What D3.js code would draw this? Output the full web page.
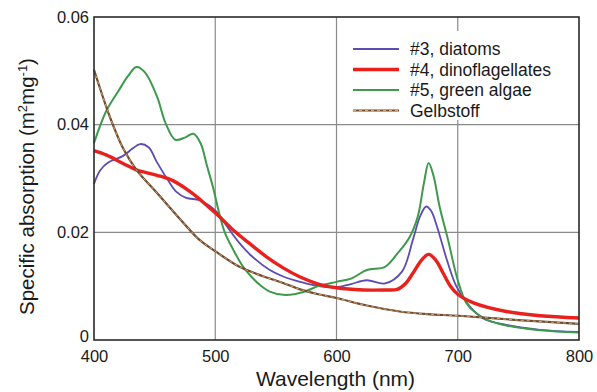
<!DOCTYPE html>
<html>
<head>
<meta charset="utf-8">
<script src="https://cdn.jsdelivr.net/npm/d3@7"></script>
<style>
  html, body { margin: 0; padding: 0; background: #ffffff; }
  svg { display: block; }
  text { font-family: "Liberation Sans", Arial, Helvetica, sans-serif; fill: #1a1a1a; }
</style>
</head>
<body>
<svg id="chart" width="597" height="392"></svg>
<script>
// Specific absorption spectra of phytoplankton groups and yellow substance

const xTicks = [400, 500, 600, 700, 800];
const yTicks = [0, 0.02, 0.04, 0.06];
const yTickLabels = ["0", "0.02", "0.04", "0.06"];

const seriesNames = ["#3, diatoms", "#4, dinoflagellates", "#5, green algae", "Gelbstoff"];

// #3, diatoms
const diatomsWl = [400, 405, 412, 424, 432, 438, 445, 452, 461, 468, 476, 487, 495, 502, 510, 520, 530, 545, 556, 570, 585, 600, 612, 625, 640, 654, 663, 669, 674, 678, 683, 691, 699, 709, 721, 740, 768, 800];
const diatomsVal = [0.0290, 0.0315, 0.0330, 0.0342, 0.0356, 0.0364, 0.0358, 0.0330, 0.0297, 0.0275, 0.0264, 0.0260, 0.0250, 0.0236, 0.0210, 0.0180, 0.0156, 0.0130, 0.0118, 0.0108, 0.0100, 0.0098, 0.0104, 0.0111, 0.0105, 0.0127, 0.0186, 0.0230, 0.0248, 0.0240, 0.0210, 0.0149, 0.0099, 0.0065, 0.0040, 0.0028, 0.0019, 0.0015];

// #4, dinoflagellates
const dinoWl = [400, 410, 424, 435, 452, 465, 479, 490, 502, 515, 529, 542, 556, 570, 585, 600, 622, 640, 650, 657, 663, 670, 676, 682, 688, 694, 700, 713, 740, 768, 800];
const dinoVal = [0.0352, 0.0344, 0.0328, 0.0316, 0.0306, 0.0296, 0.0276, 0.0256, 0.0232, 0.0204, 0.0178, 0.0155, 0.0134, 0.0117, 0.0104, 0.0097, 0.0093, 0.0093, 0.0094, 0.0105, 0.0124, 0.0148, 0.0159, 0.0148, 0.0124, 0.0100, 0.0085, 0.0069, 0.0053, 0.0045, 0.0041];

// #5, green algae
const greenWl = [400, 410, 420, 428, 435, 442, 452, 459, 467, 475, 482, 488, 493, 498, 504, 508, 515, 523, 530, 537, 545, 556, 565, 575, 585, 600, 612, 625, 640, 650, 660, 667, 672, 676, 680, 685, 692, 700, 707, 715, 725, 740, 768, 800];
const greenVal = [0.0366, 0.0425, 0.0462, 0.0490, 0.0507, 0.0497, 0.0452, 0.0403, 0.0372, 0.0376, 0.0383, 0.0365, 0.0325, 0.0285, 0.0229, 0.0199, 0.0167, 0.0136, 0.0117, 0.0102, 0.0090, 0.0084, 0.0085, 0.0091, 0.0100, 0.0108, 0.0114, 0.0130, 0.0136, 0.0160, 0.0190, 0.0229, 0.0290, 0.0329, 0.0305, 0.0248, 0.0186, 0.0111, 0.0069, 0.0050, 0.0037, 0.0027, 0.0018, 0.0014];

// Gelbstoff (yellow substance)
const gelbWl = [400, 413, 424, 435, 452, 474, 487, 500, 520, 540, 556, 570, 585, 600, 625, 652, 675, 701, 750, 800];
const gelbVal = [0.0502, 0.0415, 0.0356, 0.0316, 0.0273, 0.0217, 0.0186, 0.0165, 0.0136, 0.0118, 0.0106, 0.0094, 0.0085, 0.0078, 0.0064, 0.0053, 0.0048, 0.0045, 0.0037, 0.0030];

const svg = d3.select("#chart");
const margin = { left: 94, top: 17, right: 597 - 579, bottom: 392 - 340 };
const W = 597, H = 392;

const x = d3.scaleLinear().domain([400, 800]).range([margin.left, W - margin.right]);
const y = d3.scaleLinear().domain([0, 0.06]).range([H - margin.bottom, margin.top]);

// Grid lines
const grid = svg.append("g");
grid.selectAll("line.gx").data(xTicks.slice(1, -1)).join("line")
  .attr("x1", d => x(d)).attr("x2", d => x(d))
  .attr("y1", y(0.06)).attr("y2", y(0))
  .attr("stroke", "#8a8a8a").attr("stroke-width", 1.2);
grid.selectAll("line.gy").data(yTicks.slice(1, -1)).join("line")
  .attr("x1", x(400)).attr("x2", x(800))
  .attr("y1", d => y(d)).attr("y2", d => y(d))
  .attr("stroke", "#8a8a8a").attr("stroke-width", 1.2);

// Legend background sits above the grid
const legendX = 345, legendY = 31;
svg.append("rect")
  .attr("x", legendX).attr("y", legendY)
  .attr("width", x(800) - legendX - 1).attr("height", 89)
  .attr("fill", "#ffffff");

// Curves
const line = d3.line()
  .x(d => x(d[0]))
  .y(d => y(d[1]))
  .curve(d3.curveCatmullRom.alpha(0.5));

const zip = (a, b) => a.map((v, i) => [v, b[i]]);

const plot = svg.append("g");
plot.append("path").datum(zip(diatomsWl, diatomsVal))
  .attr("d", line).attr("fill", "none")
  .attr("stroke", "#5a4db3").attr("stroke-width", 1.8);
plot.append("path").datum(zip(greenWl, greenVal))
  .attr("d", line).attr("fill", "none")
  .attr("stroke", "#3d9a4c").attr("stroke-width", 2);
plot.append("path").datum(zip(dinoWl, dinoVal))
  .attr("d", line).attr("fill", "none")
  .attr("stroke", "#e8211d").attr("stroke-width", 3.4);
plot.append("path").datum(zip(gelbWl, gelbVal))
  .attr("d", line).attr("fill", "none")
  .attr("stroke", "#6e4a30").attr("stroke-width", 2.2);
plot.append("path").datum(zip(gelbWl, gelbVal))
  .attr("d", line).attr("fill", "none")
  .attr("stroke", "#dba46a").attr("stroke-width", 1)
  .attr("stroke-dasharray", "3,3");

// Frame
svg.append("rect")
  .attr("x", x(400)).attr("y", y(0.06))
  .attr("width", x(800) - x(400)).attr("height", y(0) - y(0.06))
  .attr("fill", "none").attr("stroke", "#2a2a2a").attr("stroke-width", 1.6);

// Axes (labels only; ticks are drawn as the grid)
const xAxis = d3.axisBottom(x).tickValues(xTicks).tickSize(0).tickPadding(10).tickFormat(d3.format("d"));
const gx = svg.append("g").attr("transform", `translate(0,${y(0)})`).call(xAxis);
gx.select(".domain").remove();
gx.selectAll("text").attr("font-size", 16.5).attr("fill", "#1a1a1a")
  .attr("font-family", '"Liberation Sans", Arial, sans-serif');

const yAxis = d3.axisLeft(y).tickValues(yTicks).tickSize(0).tickPadding(5)
  .tickFormat((d, i) => yTickLabels[i]);
const gy = svg.append("g").attr("transform", `translate(${x(400)},0)`).call(yAxis);
gy.select(".domain").remove();
gy.selectAll("text").attr("font-size", 16.5).attr("fill", "#1a1a1a")
  .attr("font-family", '"Liberation Sans", Arial, sans-serif');
// the zero label sits a little higher so it clears the 400 label below it
gy.selectAll(".tick").filter(d => d === 0).select("text").attr("dy", "0.12em");

// Axis titles
svg.append("text")
  .attr("x", (x(400) + x(800)) / 2 - 1).attr("y", 386)
  .attr("text-anchor", "middle").attr("font-size", 21)
  .text("Wavelength (nm)");

const yt = svg.append("text")
  .attr("transform", `translate(34,${(y(0) + y(0.06)) / 2 + 8}) rotate(-90)`)
  .attr("text-anchor", "middle").attr("font-size", 20.5);
yt.append("tspan").text("Specific absorption (m");
yt.append("tspan").attr("baseline-shift", "super").attr("font-size", 13).text("2");
yt.append("tspan").text("mg");
yt.append("tspan").attr("baseline-shift", "super").attr("font-size", 13).text("-1");
yt.append("tspan").text(")");

// Legend
const legendColors = ["#5a4db3", "#e8211d", "#3d9a4c", "#6e4a30"];
const legendWidths = [1.8, 3.4, 2, 2.2];
const rowY = [49, 69.5, 90, 110.5];
const lg = svg.append("g");
seriesNames.forEach((name, i) => {
  lg.append("line")
    .attr("x1", 353).attr("x2", 399)
    .attr("y1", rowY[i]).attr("y2", rowY[i])
    .attr("stroke", legendColors[i]).attr("stroke-width", legendWidths[i]);
  if (i === 3) {
    lg.append("line")
      .attr("x1", 353).attr("x2", 399)
      .attr("y1", rowY[i]).attr("y2", rowY[i])
      .attr("stroke", "#dba46a").attr("stroke-width", 1)
      .attr("stroke-dasharray", "3,3");
  }
  lg.append("text")
    .attr("x", 410).attr("y", rowY[i] + 6)
    .attr("font-size", 17.5)
    .text(name);
});
</script>
</body>
</html>
